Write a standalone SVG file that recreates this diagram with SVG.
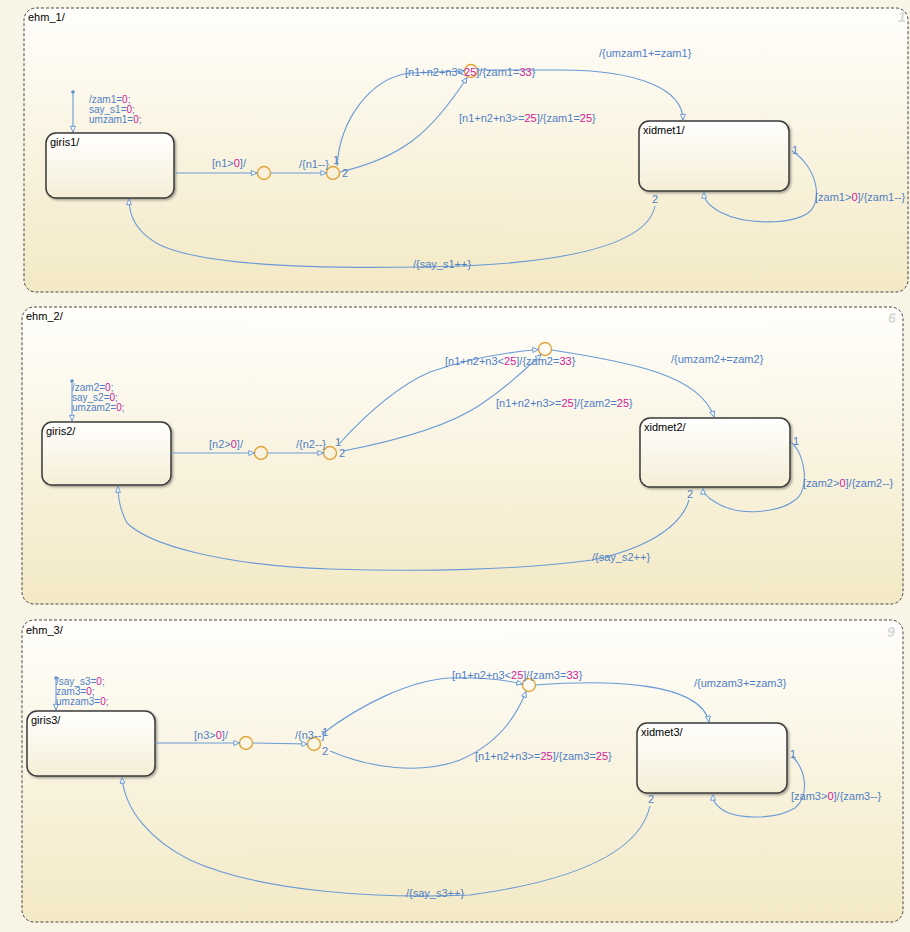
<svg xmlns="http://www.w3.org/2000/svg" width="910" height="932" viewBox="0 0 910 932">
<defs>
<linearGradient id="pg" x1="0" y1="0" x2="0" y2="1"><stop offset="0" stop-color="#fffefb"/><stop offset="1" stop-color="#f3e9c5"/></linearGradient>
<linearGradient id="sg" x1="0" y1="0" x2="0" y2="1"><stop offset="0" stop-color="#ffffff"/><stop offset="1" stop-color="#f5eed6"/></linearGradient>
<marker id="a" viewBox="0 0 8 8" refX="7.5" refY="4" markerWidth="7" markerHeight="7" markerUnits="userSpaceOnUse" orient="auto"><path d="M1,1.2 L7.5,4 L1,6.8 z" fill="#fff" stroke="#5a8fd0" stroke-width="1"/></marker>
<filter id="sh" x="-10%" y="-10%" width="130%" height="130%"><feDropShadow dx="1.5" dy="1.5" stdDeviation="1.2" flood-color="#000" flood-opacity="0.35"/></filter>
</defs>
<style>
.panel{fill:url(#pg);stroke:#444;stroke-width:1;stroke-dasharray:3,2}
.st{fill:url(#sg);stroke:#3a3a3a;stroke-width:1.5;filter:url(#sh)}
.j{fill:none;stroke:#e0a43a;stroke-width:1.4}
.ca{fill:none;stroke:#6a9bd6;stroke-width:1.1;marker-end:url(#a)}
.t{font-family:"Liberation Sans",Arial,sans-serif;font-size:11px;fill:#000}
.l{font-family:"Liberation Sans",Arial,sans-serif;font-size:11px;fill:#4f80c4}
.d{font-family:"Liberation Sans",Arial,sans-serif;font-size:10px;fill:#4f80c4}
.m{fill:#d0209a}
.n{font-family:"Liberation Sans",Arial,sans-serif;font-size:14px;font-style:italic;font-weight:bold;fill:#d8d8d8}
</style>
<rect x="0" y="0" width="910" height="932" fill="#f9f5e6"/>

<!-- Panel 1 -->
<g id="ehm_1">
<rect class="panel" x="24" y="8" width="884" height="284" rx="12"/>
<text class="t" x="28" y="21">ehm_1/</text>
<text class="n" x="898" y="22">1</text>
</g>
<g id="giris1"><rect class="st" x="46" y="133" width="128" height="65" rx="10"/><text class="t" x="50" y="146">giris1/</text></g>
<g id="xidmet1"><rect class="st" x="639" y="121" width="150" height="70" rx="10"/><text class="t" x="643" y="134">xidmet1/</text></g>
<g id="j1a"><circle class="j" cx="264" cy="173" r="6.5"/></g>
<g id="j1b"><circle class="j" cx="333" cy="173" r="6.5"/></g>
<g id="j1c"><circle class="j" cx="471" cy="71" r="6.5"/></g>

<!-- Panel 2 -->
<g id="ehm_2">
<rect class="panel" x="22" y="307" width="881" height="297" rx="12"/>
<text class="t" x="26" y="320">ehm_2/</text>
<text class="n" x="888" y="323">6</text>
</g>
<g id="giris2"><rect class="st" x="42" y="422" width="129" height="63" rx="10"/><text class="t" x="46" y="435">giris2/</text></g>
<g id="xidmet2"><rect class="st" x="640" y="418" width="150" height="69" rx="10"/><text class="t" x="644" y="431">xidmet2/</text></g>
<g id="j2a"><circle class="j" cx="261" cy="453" r="6.5"/></g>
<g id="j2b"><circle class="j" cx="330" cy="453" r="6.5"/></g>
<g id="j2c"><circle class="j" cx="545" cy="349" r="6.5"/></g>

<!-- Panel 3 -->
<g id="ehm_3">
<rect class="panel" x="22" y="620" width="881" height="302" rx="12"/>
<text class="t" x="26" y="634">ehm_3/</text>
<text class="n" x="887" y="637">9</text>
</g>
<g id="giris3"><rect class="st" x="27" y="711" width="128" height="65" rx="10"/><text class="t" x="31" y="724">giris3/</text></g>
<g id="xidmet3"><rect class="st" x="637" y="723" width="150" height="70" rx="10"/><text class="t" x="641" y="736">xidmet3/</text></g>
<g id="j3a"><circle class="j" cx="246" cy="743" r="6.5"/></g>
<g id="j3b"><circle class="j" cx="314" cy="744" r="6.5"/></g>
<g id="j3c"><circle class="j" cx="529" cy="685" r="6.5"/></g>

<g id="connectors">
<!-- panel 1 -->
<circle cx="73" cy="92" r="1.8" fill="#5a8fd0"/>
<path class="ca" d="M73,92 L73,132"/>
<path class="ca" d="M174,173 L257,173"/>
<path class="ca" d="M270.5,173 L326.5,173"/>
<path class="ca" d="M337,166 C340,120 370,78 410,73 L464.5,71"/>
<path class="ca" d="M340,172 C400,158 430,135 467,77.5"/>
<path class="ca" d="M477.5,70 L560,70 C640,70 683,90 683,120"/>
<path class="ca" d="M792,151 C815,165 825,200 808,213 C790,225 745,225 720,212 C708,205 704,200 704,192.5"/>
<path class="ca" d="M655,206 C645,255 520,266 420,267 C300,269 200,264 160,245 C135,232 129,215 129,199"/>
<!-- panel 2 -->
<circle cx="72" cy="381" r="1.8" fill="#5a8fd0"/>
<path class="ca" d="M72,381 L72,421"/>
<path class="ca" d="M171,453 L254.5,453"/>
<path class="ca" d="M267.5,453 L323.5,453"/>
<path class="ca" d="M339,444 C370,410 400,385 430,372 C470,358 510,352 538.5,349.5"/>
<path class="ca" d="M343,451 C400,440 450,425 480,405 C510,385 530,365 541,354.5"/>
<path class="ca" d="M551.5,350 C630,362 700,375 714,417"/>
<path class="ca" d="M791,442 C806,455 810,490 795,500 C780,512 740,518 715,502 C705,496 703,492 703,488.5"/>
<path class="ca" d="M689,500 C680,530 640,550 592,560 C520,570 420,572 330,569 C220,565 150,545 127,523 C120,510 118,500 118,486.5"/>
<!-- panel 3 -->
<circle cx="56" cy="678" r="1.8" fill="#5a8fd0"/>
<path class="ca" d="M56,678 L56,710"/>
<path class="ca" d="M155,743 L239.5,743"/>
<path class="ca" d="M252.5,743 L307.5,744"/>
<path class="ca" d="M322,734 C360,705 410,680 450,678 C480,677 505,680 522.5,684"/>
<path class="ca" d="M330,751 C370,768 420,775 460,760 C495,745 515,720 526,691.5"/>
<path class="ca" d="M535.5,685 C600,680 700,680 709,722"/>
<path class="ca" d="M792,756 C806,770 810,795 795,808 C775,820 735,820 720,808 C714,803 713,800 713,794.5"/>
<path class="ca" d="M650,806 C640,850 580,880 470,895 C380,899 260,892 190,860 C150,840 125,810 122,777.5"/>
</g>

<g id="labels">
<!-- panel 1 -->
<text class="d" x="89" y="103">/zam1=<tspan class="m">0</tspan>;</text>
<text class="d" x="89" y="113">say_s1=<tspan class="m">0</tspan>;</text>
<text class="d" x="89" y="123">umzam1=<tspan class="m">0</tspan>;</text>
<text class="l" x="212" y="167">[n1&gt;<tspan class="m">0</tspan>]/</text>
<text class="l" x="299" y="168">/{n1--}</text>
<text class="l" x="333" y="164">1</text>
<text class="l" x="342" y="177">2</text>
<text class="l" x="405" y="76">[n1+n2+n3&lt;<tspan class="m">25</tspan>]/{zam1=<tspan class="m">33</tspan>}</text>
<text class="l" x="459" y="122">[n1+n2+n3&gt;=<tspan class="m">25</tspan>]/{zam1=<tspan class="m">25</tspan>}</text>
<text class="l" x="599" y="57">/{umzam1+=zam1}</text>
<text class="l" x="792" y="154">1</text>
<text class="l" x="815" y="201">[zam1&gt;<tspan class="m">0</tspan>]/{zam1--}</text>
<text class="l" x="652" y="203">2</text>
<text class="l" x="413" y="268">/{say_s1++}</text>
<!-- panel 2 -->
<text class="d" x="72" y="391">/zam2=<tspan class="m">0</tspan>;</text>
<text class="d" x="72" y="401">say_s2=<tspan class="m">0</tspan>;</text>
<text class="d" x="72" y="411">umzam2=<tspan class="m">0</tspan>;</text>
<text class="l" x="209" y="448">[n2&gt;<tspan class="m">0</tspan>]/</text>
<text class="l" x="296" y="448">/{n2--}</text>
<text class="l" x="335" y="446">1</text>
<text class="l" x="339" y="457">2</text>
<text class="l" x="445" y="365">[n1+n2+n3&lt;<tspan class="m">25</tspan>]/{zam2=<tspan class="m">33</tspan>}</text>
<text class="l" x="496" y="407">[n1+n2+n3&gt;=<tspan class="m">25</tspan>]/{zam2=<tspan class="m">25</tspan>}</text>
<text class="l" x="671" y="363">/{umzam2+=zam2}</text>
<text class="l" x="793" y="445">1</text>
<text class="l" x="803" y="487">[zam2&gt;<tspan class="m">0</tspan>]/{zam2--}</text>
<text class="l" x="687" y="498">2</text>
<text class="l" x="592" y="561">/{say_s2++}</text>
<!-- panel 3 -->
<text class="d" x="56" y="685">/say_s3=<tspan class="m">0</tspan>;</text>
<text class="d" x="56" y="695">zam3=<tspan class="m">0</tspan>;</text>
<text class="d" x="56" y="705">umzam3=<tspan class="m">0</tspan>;</text>
<text class="l" x="194" y="739">[n3&gt;<tspan class="m">0</tspan>]/</text>
<text class="l" x="295" y="739">/{n3--}</text>
<text class="l" x="322" y="736">1</text>
<text class="l" x="322" y="755">2</text>
<text class="l" x="452" y="679">[n1+n2+n3&lt;<tspan class="m">25</tspan>]/{zam3=<tspan class="m">33</tspan>}</text>
<text class="l" x="475" y="760">[n1+n2+n3&gt;=<tspan class="m">25</tspan>]/{zam3=<tspan class="m">25</tspan>}</text>
<text class="l" x="694" y="687">/{umzam3+=zam3}</text>
<text class="l" x="790" y="758">1</text>
<text class="l" x="791" y="800">[zam3&gt;<tspan class="m">0</tspan>]/{zam3--}</text>
<text class="l" x="648" y="803">2</text>
<text class="l" x="406" y="897">/{say_s3++}</text>
</g>
</svg>
